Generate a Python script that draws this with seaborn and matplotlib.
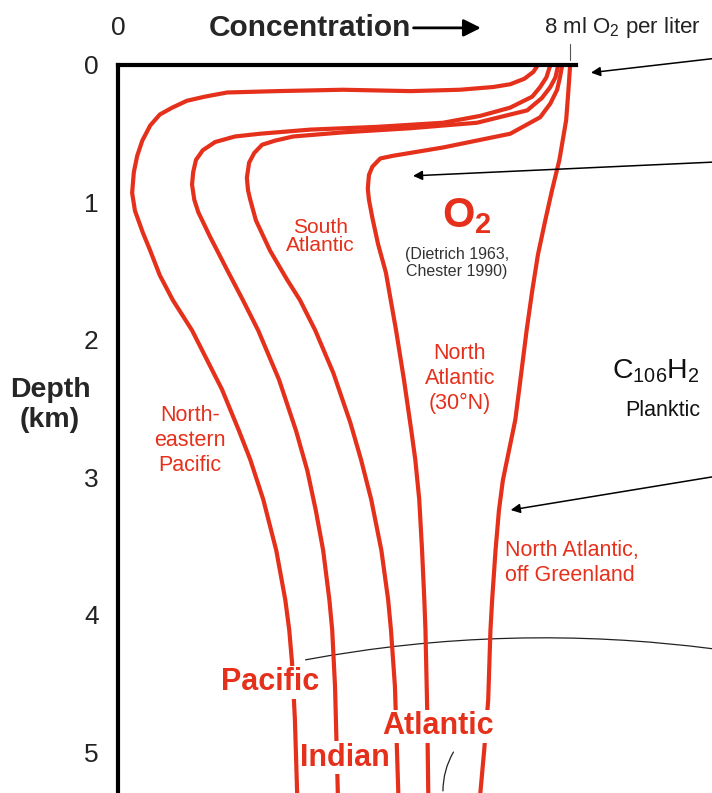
import numpy as np
import pandas as pd
import seaborn as sns
import matplotlib.pyplot as plt

sns.set_style('white')
plt.rcParams['font.family'] = ['Liberation Sans', 'DejaVu Sans']
plt.rcParams['mathtext.fontset'] = 'custom'
plt.rcParams['mathtext.rm'] = 'Liberation Sans'
plt.rcParams['mathtext.bf'] = 'Liberation Sans:bold'
plt.rcParams['mathtext.default'] = 'regular'

RED = '#e5301b'

# dissolved O2 (ml per liter) against depth (km)
ne_pacific_o2 = [7.43, 7.35, 7.19, 6.94, 6.64, 6.05, 5.17, 3.98, 2.81, 1.93, 1.54, 1.22, 0.96, 0.74,
                 0.57, 0.43, 0.34, 0.28, 0.25, 0.30, 0.44, 0.57, 0.74, 0.97, 1.31, 1.84, 2.14,
                 2.34, 2.57, 2.80, 2.96, 3.03, 3.08, 3.13, 3.17]
ne_pacific_depth = [0.0, 0.05, 0.10, 0.14, 0.16, 0.18, 0.19, 0.18, 0.19, 0.20, 0.23, 0.26, 0.31,
                    0.36, 0.44, 0.55, 0.66, 0.78, 0.93, 1.06, 1.22, 1.35, 1.53, 1.71, 1.93, 2.36,
                    2.66, 2.87, 3.16, 3.53, 3.89, 4.11, 4.35, 4.76, 5.30]

indian_o2 = [7.65, 7.58, 7.47, 7.33, 6.94, 6.41, 5.75, 4.58, 3.40, 2.51, 2.07, 1.72, 1.50, 1.38,
             1.33, 1.31, 1.35, 1.42, 1.63, 1.93, 2.21, 2.48, 2.85, 3.15, 3.35, 3.50, 3.63, 3.74,
             3.79, 3.84, 3.89]
indian_depth = [0.0, 0.09, 0.16, 0.23, 0.31, 0.37, 0.42, 0.45, 0.47, 0.50, 0.52, 0.56, 0.62, 0.69,
                0.78, 0.87, 0.98, 1.07, 1.25, 1.49, 1.71, 1.93, 2.29, 2.66, 2.95, 3.24, 3.53,
                3.89, 4.11, 4.52, 5.30]

s_atlantic_o2 = [7.79, 7.74, 7.65, 7.50, 7.24, 6.35, 5.17, 3.98, 3.10, 2.78, 2.55, 2.41, 2.32, 2.28,
                 2.30, 2.34, 2.44, 2.69, 2.99, 3.22, 3.49, 3.81, 4.11, 4.30, 4.48, 4.66, 4.78,
                 4.83, 4.90, 4.96]
s_atlantic_depth = [0.0, 0.09, 0.16, 0.24, 0.33, 0.42, 0.46, 0.49, 0.52, 0.55, 0.58, 0.64, 0.71,
                    0.82, 0.91, 0.98, 1.13, 1.35, 1.56, 1.71, 1.93, 2.24, 2.60, 2.87, 3.16, 3.53,
                    3.89, 4.11, 4.52, 5.30]

n_atlantic_o2 = [7.86, 7.82, 7.77, 7.65, 7.47, 6.94, 5.75, 4.87, 4.64, 4.50, 4.44, 4.42, 4.44, 4.50,
                 4.60, 4.74, 4.92, 5.06, 5.19, 5.26, 5.33, 5.38, 5.42, 5.44, 5.47, 5.49]
n_atlantic_depth = [0.0, 0.09, 0.18, 0.28, 0.38, 0.50, 0.60, 0.66, 0.68, 0.74, 0.80, 0.90, 0.98,
                    1.11, 1.30, 1.51, 1.93, 2.29, 2.66, 2.87, 3.16, 3.53, 3.89, 4.11, 4.67, 5.30]

greenland_o2 = [8.00, 7.97, 7.93, 7.81, 7.68, 7.56, 7.43, 7.33, 7.23, 7.12, 7.03, 6.92, 6.81, 6.74,
                6.68, 6.62, 6.59, 6.55, 6.48, 6.41]
greenland_depth = [0.0, 0.18, 0.40, 0.69, 0.91, 1.13, 1.38, 1.64, 1.93, 2.29, 2.58, 2.80, 3.02,
                   3.24, 3.53, 3.89, 4.11, 4.62, 4.98, 5.30]

profiles = {
    'North-eastern Pacific': (ne_pacific_o2, ne_pacific_depth),
    'Indian': (indian_o2, indian_depth),
    'South Atlantic': (s_atlantic_o2, s_atlantic_depth),
    'North Atlantic (30N)': (n_atlantic_o2, n_atlantic_depth),
    'North Atlantic, off Greenland': (greenland_o2, greenland_depth),
}
depth_ticks = [0, 1, 2, 3, 4, 5]

df = pd.concat([pd.DataFrame({'profile': name, 'o2': o2, 'depth': d})
                for name, (o2, d) in profiles.items()], ignore_index=True)

fig = plt.figure(figsize=(7.12, 7.93), dpi=100)
ax = fig.add_axes([118 / 712, 0, 594 / 712, 728 / 793])

sns.lineplot(data=df, x='o2', y='depth', units='profile', estimator=None, sort=False,
             color=RED, lw=3, ax=ax, zorder=2, solid_joinstyle='round')

ax.set_xlim(0, 10.51)
ax.set_ylim(5.295, 0)
ax.set_xlabel('')
ax.set_ylabel('')

for side in ['right', 'bottom']:
    ax.spines[side].set_visible(False)
for side in ['left', 'top']:
    ax.spines[side].set_linewidth(3)
    ax.spines[side].set_color('black')
ax.spines['top'].set_bounds(0, 8.1)

ax.set_yticks(depth_ticks)
ax.set_yticklabels([str(t) for t in depth_ticks])
ax.tick_params(axis='y', length=0, pad=14, labelsize=19, labelcolor='#222222')
ax.set_xticks([])

# top scale labels
ax.text(0, -0.27, '0', fontsize=19, color='#222222', ha='center', va='center')
ax.text(8.92, -0.27, '8 ml O$_2$ per liter', fontsize=16, color='#222222', ha='center',
        va='center')
ax.plot([8, 8], [-0.15, -0.035], color='#555555', lw=0.8, clip_on=False)

ax.text(3.40, -0.27, 'Concentration', fontsize=21.5, fontweight='bold', ha='center', va='center')
ax.annotate('', xy=(6.47, -0.27), xytext=(5.18, -0.27), annotation_clip=False,
            arrowprops=dict(arrowstyle='-|>', lw=2, color='black', mutation_scale=26))

ax.text(-1.20, 2.47, 'Depth\n(km)', fontsize=20.5, fontweight='bold', ha='center', va='center',
        linespacing=1.2)

# labels
ax.text(3.58, 1.25, 'South\nAtlantic', color=RED, fontsize=15, ha='center', va='center',
        linespacing=0.95)
ax.text(6.18, 1.10, r'O$_\mathbf{2}$', color=RED, fontsize=30, fontweight='bold',
        ha='center', va='center')
ax.text(6.00, 1.44, '(Dietrich 1963,\nChester 1990)', color='#333333', fontsize=11.5,
        ha='center', va='center', linespacing=1.2)
ax.text(6.05, 2.28, 'North\nAtlantic\n(30°N)', color=RED, fontsize=15.5, ha='center',
        va='center', linespacing=1.25)
ax.text(1.27, 2.73, 'North-\neastern\nPacific', color=RED, fontsize=15.5, ha='center',
        va='center', linespacing=1.25)
ax.text(6.85, 3.62, 'North Atlantic,\noff Greenland', color=RED, fontsize=15.5, ha='left',
        va='center', linespacing=1.25)

box = dict(facecolor='white', edgecolor='none', pad=1)
ax.text(2.69, 4.49, 'Pacific', color=RED, fontsize=22, fontweight='bold', ha='center',
        va='center', bbox=box, zorder=4)
ax.text(4.02, 5.04, 'Indian', color=RED, fontsize=22, fontweight='bold', ha='center',
        va='center', bbox=box, zorder=4)
ax.text(5.66, 4.81, 'Atlantic', color=RED, fontsize=22, fontweight='bold', ha='center',
        va='center', bbox=box, zorder=4)

ax.text(8.74, 2.23, 'C$_{106}$H$_2$', fontsize=20.5, ha='left', va='center', color='#111111',
        clip_on=False)
ax.text(8.98, 2.51, 'Planktic', fontsize=15.5, ha='left', va='center', color='#111111')

# pointer arrows and connector lines
arrow = dict(arrowstyle='-|>', lw=1.1, color='black', mutation_scale=14)
ax.annotate('', xy=(8.32, 0.058), xytext=(10.6, -0.05), annotation_clip=False, arrowprops=arrow)
ax.annotate('', xy=(5.17, 0.807), xytext=(10.6, 0.705), annotation_clip=False, arrowprops=arrow)
ax.annotate('', xy=(6.90, 3.24), xytext=(10.6, 2.99), annotation_clip=False, arrowprops=arrow)
ax.annotate('', xy=(10.6, 4.25), xytext=(3.27, 4.33), annotation_clip=False, zorder=1,
            arrowprops=dict(arrowstyle='-', lw=0.9, color='#222222',
                            connectionstyle='arc3,rad=-0.08'))
ax.annotate('', xy=(5.75, 5.30), xytext=(5.96, 4.98), annotation_clip=False,
            arrowprops=dict(arrowstyle='-', lw=0.9, color='#222222',
                            connectionstyle='arc3,rad=0.15'))

fig.savefig('out.png', dpi=100)
